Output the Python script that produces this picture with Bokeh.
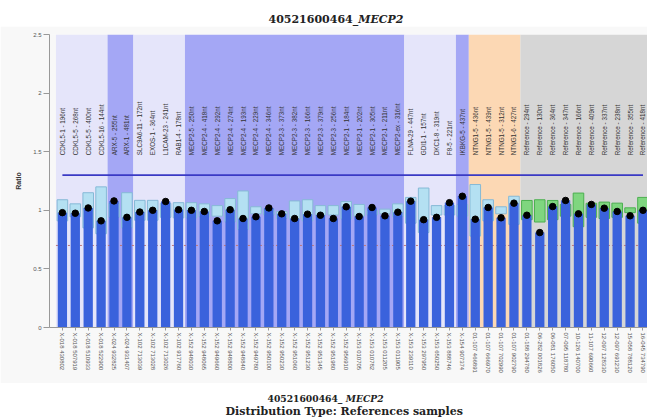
from bokeh.plotting import figure
from bokeh.models import FixedTicker, Label
from bokeh.layouts import column
from bokeh.embed import file_html
from bokeh.resources import INLINE

# ---------------- data ----------------
probes = [
    "CDKL5-1 - 196nt", "CDKL5-5 - 268nt", "CDKL5-5 - 400nt", "CDKL5-16 - 144nt",
    "ARX-5 - 255nt", "ARX-1 - 481nt",
    "SLC9A6-11 - 172nt", "EXOS-1 - 364nt", "L1CAM-23 - 241nt", "RAB1-4 - 178nt",
    "MECP2-5 - 250nt", "MECP2-4 - 418nt", "MECP2-4 - 292nt", "MECP2-4 - 274nt",
    "MECP2-4 - 193nt", "MECP2-4 - 229nt", "MECP2-4 - 346nt", "MECP2-3 - 373nt",
    "MECP2-3 - 382nt", "MECP2-3 - 166nt", "MECP2-3 - 379nt", "MECP2-3 - 256nt",
    "MECP2-1 - 184nt", "MECP2-1 - 202nt", "MECP2-1 - 305nt", "MECP2-1 - 211nt",
    "MECP2-ex - 316nt",
    "FLNA-29 - 447nt", "GDI1-1 - 157nt", "DKC1-8 - 319nt", "F8-5 - 221nt",
    "IKBKG-5 - 437nt",
    "NTNG1-5 - 436nt", "NTNG1-5 - 439nt", "NTNG1-5 - 312nt", "NTNG1-6 - 427nt",
    "Reference - 294nt", "Reference - 130nt", "Reference - 364nt", "Reference - 347nt",
    "Reference - 166nt", "Reference - 409nt", "Reference - 337nt", "Reference - 238nt",
    "Reference - 355nt", "Reference - 418nt",
]

positions = [
    "X-018 430802", "X-018 507919", "X-018 510933", "X-018 522900",
    "X-024 932825", "X-024 931407",
    "X-102 713039", "X-102 713028", "X-102 713026", "X-102 917760",
    "X-152 948030", "X-152 948065", "X-152 949660", "X-152 948800", "X-152 948840",
    "X-152 949780", "X-152 950100", "X-152 950230", "X-152 951060", "X-152 951230",
    "X-152 951345", "X-152 951980", "X-152 956910", "X-153 010705", "X-153 010782",
    "X-153 011205", "X-153 011905",
    "X-153 239110", "X-153 297950", "X-153 650250", "X-153 888746",
    "X-154 907374",
    "01-107 466891", "01-107 666970", "01-107 702990", "01-107 902790",
    "01-188 294780", "06-282 001826", "06-081 176050", "07-095 118780", "10-126 140700",
    "11-107 690660", "12-097 128330", "12-097 691230", "15-058 788120", "16-045 734790",
]

band_type = (["light"] * 4 + ["dark"] * 2 + ["light"] * 4 + ["dark"] * 17 +
             ["light"] * 4 + ["dark"] * 1 + ["test"] * 4 + ["ref"] * 10)

ratio = [0.98, 0.975, 1.02, 0.91, 1.08, 0.94, 0.985, 1.00, 1.075, 1.005,
         1.00, 0.99, 0.91, 1.005, 0.93, 0.945, 1.02, 0.97, 0.93, 0.967,
         0.958, 0.93, 1.03, 0.947, 1.024, 0.953, 0.984,
         1.078, 0.92, 0.94, 1.065,
         1.12,
         0.924, 1.024, 0.936, 1.061,
         0.958, 0.81, 1.032, 1.084, 0.97, 1.05, 1.018, 0.99, 0.953, 1.00]

box_hi = [1.09, 1.055, 1.15, 1.20, 1.06, 1.15, 1.085, 1.085, 1.06, 1.065,
          1.065, 1.055, 1.04, 1.10, 1.165, 1.03, 1.01, 0.99, 1.08, 1.09,
          1.04, 1.04, 1.075, 1.05, 1.00, 1.01, 1.055,
          1.11, 1.19, 1.04, 1.04,
          1.05,
          1.22, 1.09, 1.03, 1.12,
          1.084, 1.09, 1.084, 1.05, 1.147, 1.06, 1.07, 1.061, 1.021, 1.11]

box_lo = [0.91, 0.945, 0.85, 0.80, 0.94, 0.85, 0.915, 0.915, 0.94, 0.935,
          0.935, 0.945, 0.95, 0.90, 0.835, 0.97, 0.96, 0.93, 0.92, 0.91,
          0.96, 0.96, 0.925, 0.95, 0.96, 0.97, 0.945,
          0.89, 0.81, 0.96, 0.96,
          0.95,
          0.78, 0.91, 0.97, 0.88,
          0.92, 0.90, 0.92, 0.95, 0.86, 0.94, 0.93, 0.94, 0.98, 0.89]

upper_limit = 1.3
lower_limit = 0.7

y_ticks = [0, 0.5, 1, 1.5, 2, 2.5]
y_tick_labels = ["0", "0.5", "1", "1.5", "2", "2.5"]

title_id = "40521600464_"
title_gene = "MECP2"
subtitle = "Distribution Type: References samples"

# ---------------- styles ----------------
band_colors = {"light": "#e5e5fa", "dark": "#a4a7f5", "test": "#fcd8b4", "ref": "#d6d6d6"}
box_fill = {"light": "#b4e0f2", "dark": "#b4e0f2", "test": "#b4e0f2", "ref": "#7fd67f"}
box_line = {"light": "#86b9d6", "dark": "#86b9d6", "test": "#86b9d6", "ref": "#4caf50"}
bar_color = "#3a62dc"
panel = "#f8f8f8"
W = 647
FRAME_LEFT = 49

n = len(ratio)
idx = list(range(n))


def strip(h):
    # column layouts align plot frames, so the strip frame spans FRAME_LEFT..W;
    # use that span as the x range so label x equals the page x.
    f = figure(width=W, height=h, x_range=(FRAME_LEFT, W), y_range=(0, h), x_axis_type=None,
               y_axis_type=None, toolbar_location=None, output_backend="svg", title=None,
               min_border_left=FRAME_LEFT, min_border_right=0, min_border_top=0,
               min_border_bottom=0)
    f.outline_line_color = None
    f.background_fill_color = "white"
    f.border_fill_color = "white"
    return f


def lab(f, x, y, text, style, size):
    f.add_layout(Label(x=x, y=y, text=text, text_align="left", text_baseline="alphabetic",
                       text_font="DejaVu Serif", text_font_style=style,
                       text_font_size=size, text_color="#222222"))


# ---------------- top title strip ----------------
top = strip(26)
lab(top, 268, 7, title_id, "bold", "11px")
lab(top, 268 + 8.16 * 11, 7, title_gene, "bold italic", "11px")

# ---------------- main chart ----------------
p = figure(width=W, height=357, x_range=(-1.0, n - 0.65), y_range=(0, 2.5),
           output_backend="svg", toolbar_location=None,
           min_border_left=FRAME_LEFT, min_border_right=0, min_border_top=8,
           min_border_bottom=56)
p.background_fill_color = panel
p.border_fill_color = panel
p.outline_line_color = None
p.grid.visible = False

# bands (contiguous runs of same band type)
b_left, b_right, b_col = [], [], []
start = 0
for i in range(1, n + 1):
    if i == n or band_type[i] != band_type[start]:
        b_left.append(start - 0.5)
        b_right.append(i - 1 + 0.5)
        b_col.append(band_colors[band_type[start]])
        start = i
p.quad(left=b_left, right=b_right, bottom=0, top=2.5, fill_color=b_col, line_color=None)

# probe labels
p.text(x=idx, y=[1.47] * n, text=probes, angle=1.5708, text_align="left",
       text_baseline="middle", text_font_size="6.3px", text_color="#333333",
       text_font={"value": "Liberation Sans"})

# limit lines
p.line(x=[idx[0], idx[-1]], y=[upper_limit, upper_limit], line_color="#3a3ac4", line_width=1.6)
p.line(x=[idx[0] - 0.5, idx[-1] + 0.5], y=[lower_limit, lower_limit], line_color="#c07878",
       line_width=1, line_dash="2 2")

# range boxes
p.vbar(x=idx, bottom=box_lo, top=box_hi, width=0.82,
       fill_color=[box_fill[t] for t in band_type],
       line_color=[box_line[t] for t in band_type], line_width=1)

# bars
p.vbar(x=idx, bottom=0, top=ratio, width=0.72, fill_color=bar_color, line_color=None)

# dots
p.scatter(x=idx, y=ratio, size=6.5, fill_color="black", line_color="black")

# axes
p.yaxis.ticker = FixedTicker(ticks=y_ticks)
p.yaxis.major_label_overrides = {t: l for t, l in zip(y_ticks, y_tick_labels)}
p.yaxis.minor_tick_line_color = None
p.yaxis.major_tick_out = 6
p.yaxis.major_tick_in = 0
p.yaxis.major_label_standoff = 2
p.yaxis.axis_line_color = "#999999"
p.yaxis.major_tick_line_color = "#999999"
p.yaxis.major_label_text_font_size = "6px"
p.yaxis.major_label_text_color = "#555555"
p.yaxis.major_label_text_font = "Liberation Sans"
p.yaxis.axis_label = "Ratio"
p.yaxis.axis_label_text_font_size = "7px"
p.yaxis.axis_label_text_font_style = "bold"
p.yaxis.axis_label_text_font = "Liberation Sans"
p.yaxis.axis_label_text_color = "#333333"
p.yaxis.axis_label_standoff = 8

p.xaxis.ticker = FixedTicker(ticks=idx)
p.xaxis.major_label_overrides = {i: s for i, s in zip(idx, positions)}
p.xaxis.major_label_orientation = "vertical"
p.xaxis.minor_tick_line_color = None
p.xaxis.major_tick_out = 3
p.xaxis.major_tick_in = 0
p.xaxis.major_label_standoff = 2
p.xaxis.axis_line_color = "#999999"
p.xaxis.major_tick_line_color = "#999999"
p.xaxis.major_label_text_font_size = "6px"
p.xaxis.major_label_text_color = "#555555"
p.xaxis.major_label_text_font = "Liberation Sans"

# ---------------- bottom title strip ----------------
bot = strip(35)
lab(bot, 267, 20, title_id + " ", "bold", "9.2px")
lab(bot, 267 + 8.51 * 9.2, 20, title_gene, "bold italic", "9.2px")
lab(bot, 225, 7, subtitle, "bold", "11px")

layout = column(top, p, bot, spacing=0)
open("out.html", "w").write(file_html(layout, INLINE))
